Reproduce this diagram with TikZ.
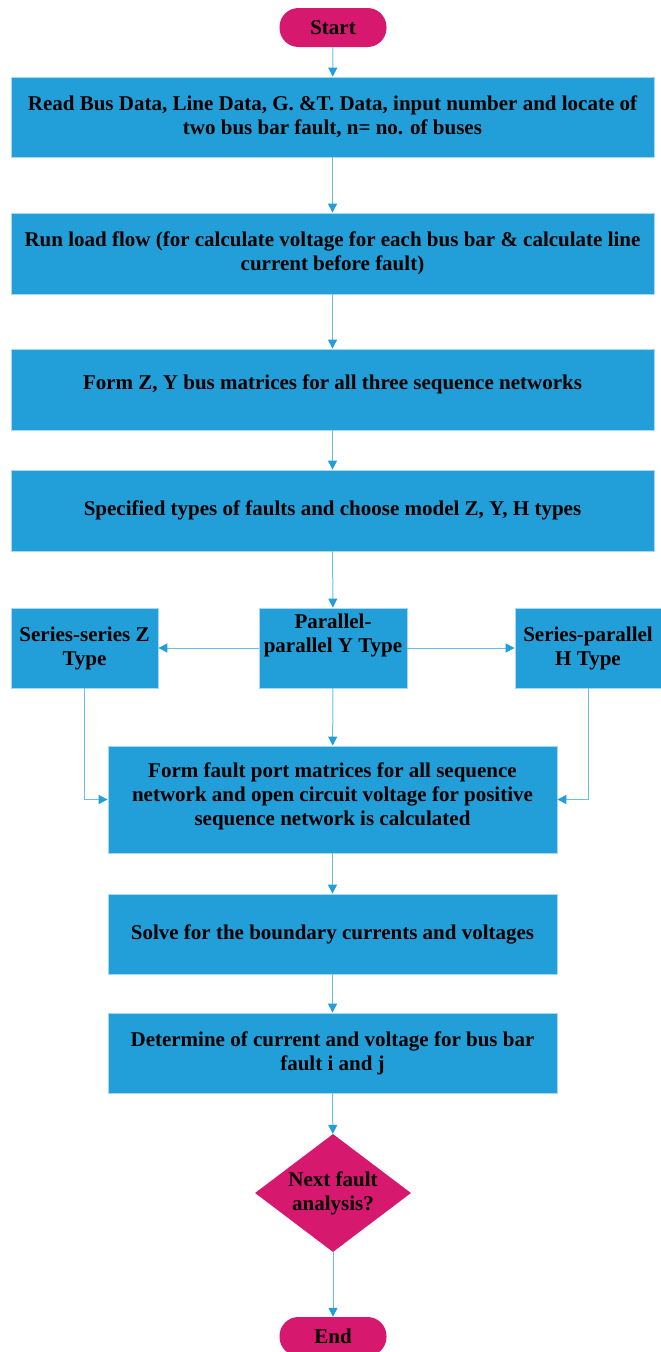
\documentclass[tikz,border=0pt]{standalone}
\usepackage{fontspec}
\setmainfont{Liberation Serif}
\usetikzlibrary{arrows.meta,shapes.geometric}
\definecolor{boxblue}{HTML}{229FD9}
\definecolor{lineblue}{HTML}{6DBDE8}
\definecolor{termred}{HTML}{D7186F}
\tikzset{
  procbox/.style={draw=lineblue!60!white, line width=0.8pt, fill=boxblue, inner sep=0pt,
    align=center, font=\fontsize{21}{24}\selectfont\bfseries},
  terminal/.style={fill=termred, rounded corners=19pt, minimum width=107pt, minimum height=39pt,
    inner sep=0pt, font=\fontsize{21}{24}\selectfont\bfseries},
  decision/.style={diamond, fill=termred, inner sep=0pt, minimum width=156pt, minimum height=118pt,
    shape aspect=1.32, align=center, font=\fontsize{21}{24}\selectfont\bfseries},
  flow/.style={draw=lineblue, line width=1pt, -{Triangle[length=9pt,width=9pt,color=boxblue]}}
}
\begin{document}
\begin{tikzpicture}[x=1pt,y=-1pt]
\useasboundingbox (0,0) rectangle (661,1352);
% terminals
\node[terminal] (start) at (333,27.5) {Start};
\node[terminal] (end) at (333,1336.5) {End};
% main process chain
\node[procbox, minimum width=643pt, minimum height=80pt] (read) at (332.5,117)
  {Read Bus Data, Line Data, G. \&T. Data, input number and locate of\\two bus bar fault, n= no. of buses};
\node[procbox, minimum width=643pt, minimum height=81pt] (load) at (332.5,253.5)
  {Run load flow (for calculate voltage for each bus bar \& calculate line\\current before fault)};
\node[procbox, minimum width=643pt, minimum height=81pt] (form) at (332.5,389.5)
  {Form Z, Y bus matrices for all three sequence networks\\[-9pt]};
\node[procbox, minimum width=643pt, minimum height=81pt] (spec) at (332.5,510.5)
  {Specified types of faults and choose model Z, Y, H types};
% model types
\node[procbox, minimum width=147pt, minimum height=80pt] (zt) at (84.5,648)
  {Series-series Z\\Type};
\node[procbox, minimum width=148pt, minimum height=80pt] (yt) at (333,648)
  {Parallel-\\parallel Y Type\\[6pt]};
\node[procbox, minimum width=146pt, minimum height=80pt] (ht) at (588,648)
  {Series-parallel\\H Type};
% fault port and solution
\node[procbox, minimum width=449pt, minimum height=107pt] (port) at (332.5,799.5)
  {Form fault port matrices for all sequence\\network and open circuit voltage for positive\\sequence network is calculated\\[-13pt]};
\node[procbox, minimum width=449pt, minimum height=80pt] (solve) at (332.5,934)
  {Solve for the boundary currents and voltages};
\node[procbox, minimum width=449pt, minimum height=80pt] (det) at (332.5,1053)
  {Determine of current and voltage for bus bar\\fault i and j};
\node[decision] (next) at (333,1193) {Next fault\\analysis?};
% connectors
\draw[flow] (start) -- (read);
\draw[flow] (read) -- (load);
\draw[flow] (load) -- (form);
\draw[flow] (form) -- (spec);
\draw[flow] (spec) -- (yt);
\draw[flow] (yt) -- (zt);
\draw[flow] (yt) -- (ht);
\draw[flow] (yt) -- (port);
\draw[flow] (zt.south) |- (port.west);
\draw[flow] (ht.south) |- (port.east);
\draw[flow] (port) -- (solve);
\draw[flow] (solve) -- (det);
\draw[flow] (det) -- (next);
\draw[flow] (next) -- (end);
\end{tikzpicture}
\end{document}
